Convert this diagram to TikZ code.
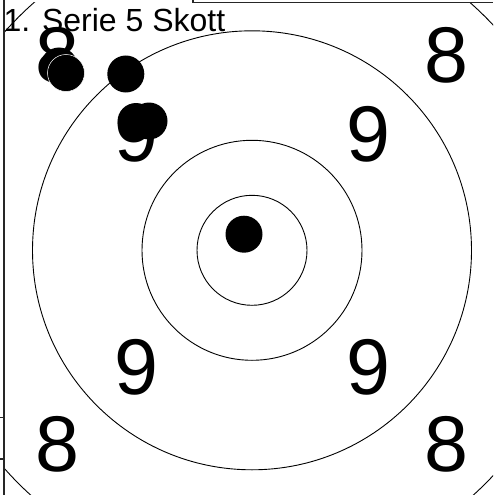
\documentclass[tikz,border=0pt]{standalone}
\usepackage{fontspec}
\setmainfont{Liberation Sans}
\tikzset{
  ring/.style={draw=black, line width=0.9pt},
  frameline/.style={draw=black!85, line width=1.3pt},
  shot/.style={circle, fill=black, minimum size=37pt, inner sep=0pt},
  edgedshot/.style={shot, draw=white, line width=0.5pt},
  bignum/.style={anchor=base, inner sep=0pt, font=\fontsize{79}{90}\selectfont},
  titletext/.style={anchor=base west, inner sep=0pt, font=\fontsize{32}{38}\selectfont}
}
\begin{document}
\begin{tikzpicture}[x=1pt,y=-1pt]
\useasboundingbox (0,0) rectangle (493,495);
\coordinate (c) at (252,250.3);
% rings
\begin{scope}
\clip (4.5,3) rectangle (493,495);
\draw[ring] (c) circle[radius=330];
\end{scope}
\draw[ring] (c) circle[radius=219.5];
\draw[ring] (c) circle[radius=110];
\draw[ring] (c) circle[radius=55];
% frame
\coordinate (fl1) at (4,0);
\coordinate (fl2) at (4,495);
\coordinate (ft0) at (193,0);
\coordinate (ft1) at (193,2.7);
\coordinate (ft2) at (493,2.7);
\coordinate (tk1a) at (0,417.7);
\coordinate (tk1b) at (4,417.7);
\coordinate (tk2a) at (0,459);
\coordinate (tk2b) at (4,459);
\draw[frameline] (fl1) -- (fl2);
\draw[frameline] (ft0) -- (ft1) -- (ft2);
\draw[frameline] (tk1a) -- (tk1b);
\draw[frameline] (tk2a) -- (tk2b);
% numbers
\node[bignum] (n8tl) at (57,82.5) {8};
\node[bignum] (n8tr) at (446,82.5) {8};
\node[bignum] (n8bl) at (57,471.8) {8};
\node[bignum] (n8br) at (446,471.8) {8};
\node[bignum] (n9tl) at (136,161) {9};
\node[bignum] (n9tr) at (368,161) {9};
\node[bignum] (n9bl) at (136,394.3) {9};
\node[bignum] (n9br) at (368,394.3) {9};
% shots
\node[shot] (s1) at (59,66) {};
\node[edgedshot] (s2) at (66,73) {};
\node[shot] (s3) at (125.8,74) {};
\node[shot] (s4) at (136,121.5) {};
\node[shot] (s5) at (149,121) {};
\node[shot] (s6) at (244,234.2) {};
% title
\node[titletext] (title) at (3.3,31.5) {1. Serie 5 Skott};
\end{tikzpicture}
\end{document}
